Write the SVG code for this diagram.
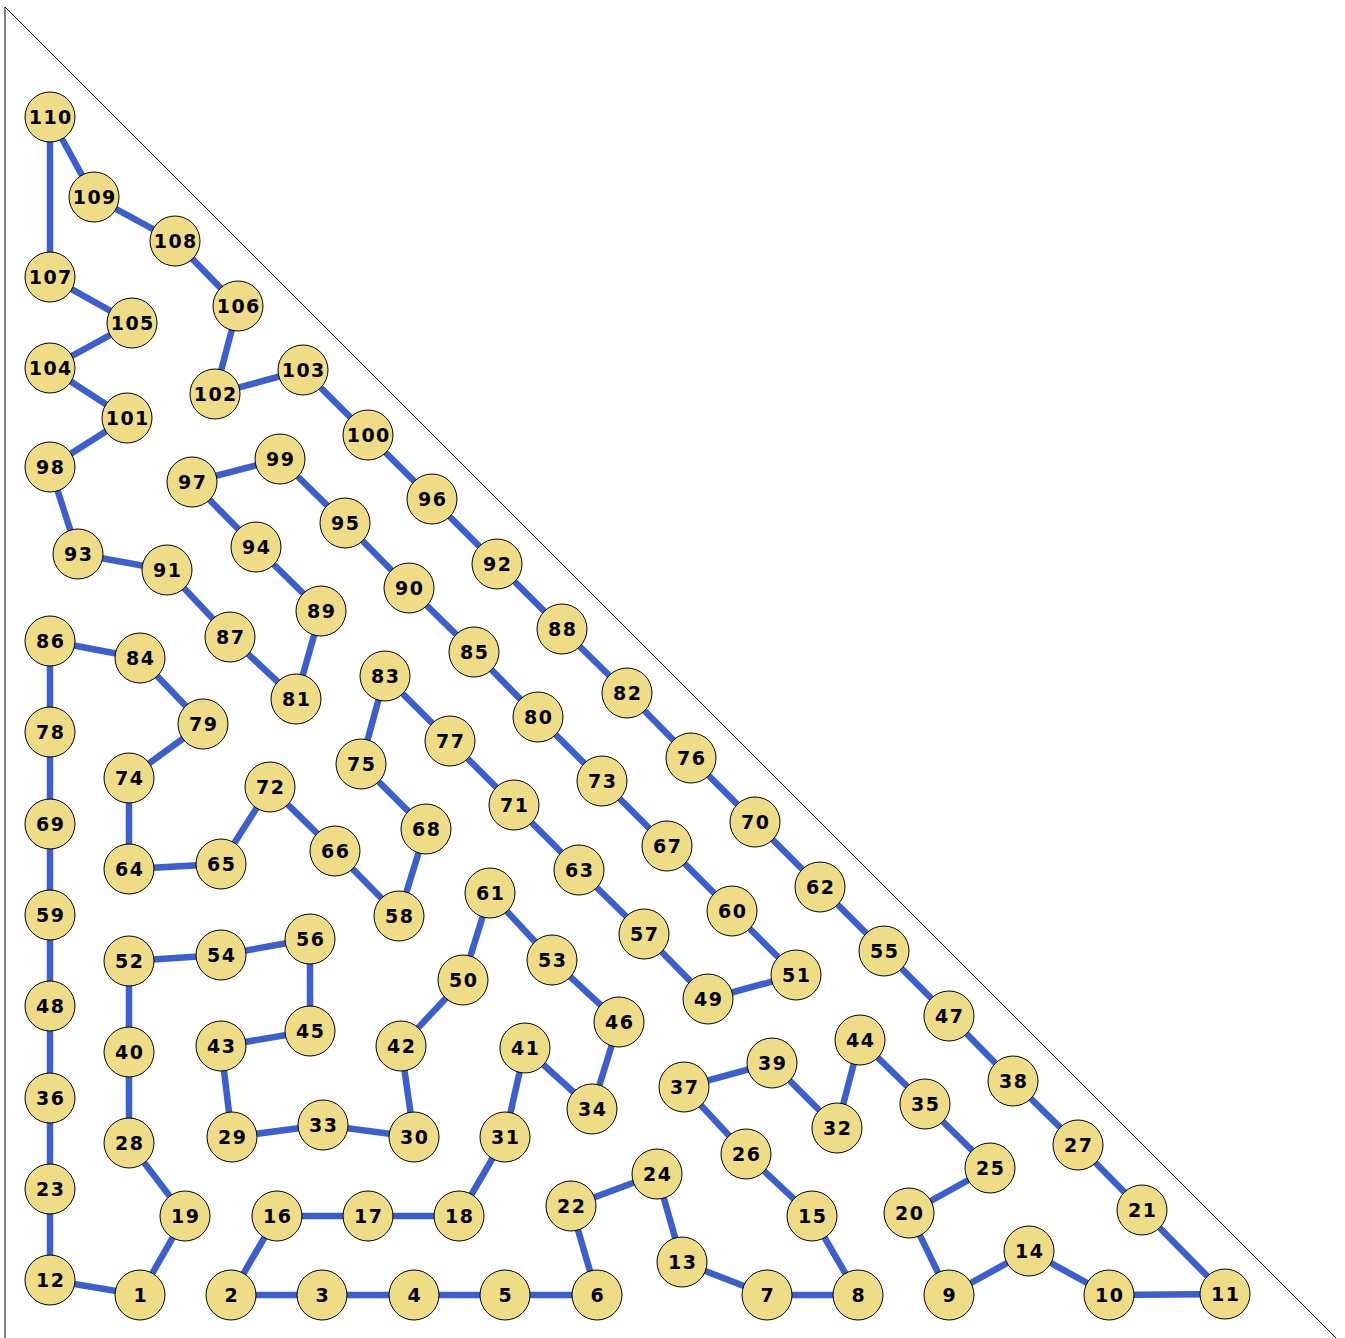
<svg xmlns="http://www.w3.org/2000/svg" width="1345" height="1338" viewBox="0 0 1345 1338">
<style>
.e{stroke:#3b5fcf;stroke-width:6.5;fill:none;stroke-linecap:butt}
.n circle{fill:#efdc86;stroke:#000;stroke-width:1}
.n text{font-family:"DejaVu Sans","Liberation Sans",sans-serif;font-weight:bold;font-size:19px;letter-spacing:1.5px;text-anchor:middle;dominant-baseline:central;fill:#000;transform:translate(0.75px,0px)}
</style>
<rect width="1345" height="1338" fill="#fff"/>
<line x1="5" y1="7" x2="5" y2="1338" stroke="#808080" stroke-width="2"/>
<line x1="5" y1="7" x2="1336" y2="1338" stroke="#000" stroke-width="1"/>
<g id="edges" class="e">
<polyline points="50,117 94,197 175,241 238,306 215,394 303,370 368,435 432,499 497,564 562,629 627,693 691,758 755,822 820,887 884,951 949,1016 1013,1081 1078,1145 1142,1210 1225,1294 1109,1295 1029,1251 949,1295 909,1213 990,1168 925,1104 860,1040 837,1128 772,1063 684,1087 746,1154 812,1216 858,1295 767,1295 682,1262 657,1174 571,1206 597,1295 505,1295 414,1295 322,1295 231,1295 277,1216 368,1216 459,1216 505,1137 525,1048 592,1109 619,1022 552,960 490,893 463,980 401,1046 414,1137 323,1125 232,1137 221,1046 310,1031 310,939 221,955 129,961 129,1052 129,1143 185,1216 140,1295 50,1280 50,1189 50,1098 50,1006 50,915 50,824 50,732 50,641 140,658 203,724 129,778 129,869 221,864 270,787 335,851 399,916 426,829 361,764 385,676 450,741 514,805 579,870 644,934 708,999 796,975 732,911 667,846 602,781 538,717 474,652 409,588 345,523 280,459 192,482 256,547 321,611 296,699 230,637 167,570 78,554 50,467 127,418 50,368 132,323 50,277 50,117"/>
</g>
<g id="nodes" class="n">
<g id="n1"><circle cx="140" cy="1295" r="25"/><text x="140" y="1295">1</text></g>
<g id="n2"><circle cx="231" cy="1295" r="25"/><text x="231" y="1295">2</text></g>
<g id="n3"><circle cx="322" cy="1295" r="25"/><text x="322" y="1295">3</text></g>
<g id="n4"><circle cx="414" cy="1295" r="25"/><text x="414" y="1295">4</text></g>
<g id="n5"><circle cx="505" cy="1295" r="25"/><text x="505" y="1295">5</text></g>
<g id="n6"><circle cx="597" cy="1295" r="25"/><text x="597" y="1295">6</text></g>
<g id="n7"><circle cx="767" cy="1295" r="25"/><text x="767" y="1295">7</text></g>
<g id="n8"><circle cx="858" cy="1295" r="25"/><text x="858" y="1295">8</text></g>
<g id="n9"><circle cx="949" cy="1295" r="25"/><text x="949" y="1295">9</text></g>
<g id="n10"><circle cx="1109" cy="1295" r="25"/><text x="1109" y="1295">10</text></g>
<g id="n11"><circle cx="1225" cy="1294" r="25"/><text x="1225" y="1294">11</text></g>
<g id="n12"><circle cx="50" cy="1280" r="25"/><text x="50" y="1280">12</text></g>
<g id="n13"><circle cx="682" cy="1262" r="25"/><text x="682" y="1262">13</text></g>
<g id="n14"><circle cx="1029" cy="1251" r="25"/><text x="1029" y="1251">14</text></g>
<g id="n15"><circle cx="812" cy="1216" r="25"/><text x="812" y="1216">15</text></g>
<g id="n16"><circle cx="277" cy="1216" r="25"/><text x="277" y="1216">16</text></g>
<g id="n17"><circle cx="368" cy="1216" r="25"/><text x="368" y="1216">17</text></g>
<g id="n18"><circle cx="459" cy="1216" r="25"/><text x="459" y="1216">18</text></g>
<g id="n19"><circle cx="185" cy="1216" r="25"/><text x="185" y="1216">19</text></g>
<g id="n20"><circle cx="909" cy="1213" r="25"/><text x="909" y="1213">20</text></g>
<g id="n21"><circle cx="1142" cy="1210" r="25"/><text x="1142" y="1210">21</text></g>
<g id="n22"><circle cx="571" cy="1206" r="25"/><text x="571" y="1206">22</text></g>
<g id="n23"><circle cx="50" cy="1189" r="25"/><text x="50" y="1189">23</text></g>
<g id="n24"><circle cx="657" cy="1174" r="25"/><text x="657" y="1174">24</text></g>
<g id="n25"><circle cx="990" cy="1168" r="25"/><text x="990" y="1168">25</text></g>
<g id="n26"><circle cx="746" cy="1154" r="25"/><text x="746" y="1154">26</text></g>
<g id="n27"><circle cx="1078" cy="1145" r="25"/><text x="1078" y="1145">27</text></g>
<g id="n28"><circle cx="129" cy="1143" r="25"/><text x="129" y="1143">28</text></g>
<g id="n29"><circle cx="232" cy="1137" r="25"/><text x="232" y="1137">29</text></g>
<g id="n30"><circle cx="414" cy="1137" r="25"/><text x="414" y="1137">30</text></g>
<g id="n31"><circle cx="505" cy="1137" r="25"/><text x="505" y="1137">31</text></g>
<g id="n32"><circle cx="837" cy="1128" r="25"/><text x="837" y="1128">32</text></g>
<g id="n33"><circle cx="323" cy="1125" r="25"/><text x="323" y="1125">33</text></g>
<g id="n34"><circle cx="592" cy="1109" r="25"/><text x="592" y="1109">34</text></g>
<g id="n35"><circle cx="925" cy="1104" r="25"/><text x="925" y="1104">35</text></g>
<g id="n36"><circle cx="50" cy="1098" r="25"/><text x="50" y="1098">36</text></g>
<g id="n37"><circle cx="684" cy="1087" r="25"/><text x="684" y="1087">37</text></g>
<g id="n38"><circle cx="1013" cy="1081" r="25"/><text x="1013" y="1081">38</text></g>
<g id="n39"><circle cx="772" cy="1063" r="25"/><text x="772" y="1063">39</text></g>
<g id="n40"><circle cx="129" cy="1052" r="25"/><text x="129" y="1052">40</text></g>
<g id="n41"><circle cx="525" cy="1048" r="25"/><text x="525" y="1048">41</text></g>
<g id="n42"><circle cx="401" cy="1046" r="25"/><text x="401" y="1046">42</text></g>
<g id="n43"><circle cx="221" cy="1046" r="25"/><text x="221" y="1046">43</text></g>
<g id="n44"><circle cx="860" cy="1040" r="25"/><text x="860" y="1040">44</text></g>
<g id="n45"><circle cx="310" cy="1031" r="25"/><text x="310" y="1031">45</text></g>
<g id="n46"><circle cx="619" cy="1022" r="25"/><text x="619" y="1022">46</text></g>
<g id="n47"><circle cx="949" cy="1016" r="25"/><text x="949" y="1016">47</text></g>
<g id="n48"><circle cx="50" cy="1006" r="25"/><text x="50" y="1006">48</text></g>
<g id="n49"><circle cx="708" cy="999" r="25"/><text x="708" y="999">49</text></g>
<g id="n50"><circle cx="463" cy="980" r="25"/><text x="463" y="980">50</text></g>
<g id="n51"><circle cx="796" cy="975" r="25"/><text x="796" y="975">51</text></g>
<g id="n52"><circle cx="129" cy="961" r="25"/><text x="129" y="961">52</text></g>
<g id="n53"><circle cx="552" cy="960" r="25"/><text x="552" y="960">53</text></g>
<g id="n54"><circle cx="221" cy="955" r="25"/><text x="221" y="955">54</text></g>
<g id="n55"><circle cx="884" cy="951" r="25"/><text x="884" y="951">55</text></g>
<g id="n56"><circle cx="310" cy="939" r="25"/><text x="310" y="939">56</text></g>
<g id="n57"><circle cx="644" cy="934" r="25"/><text x="644" y="934">57</text></g>
<g id="n58"><circle cx="399" cy="916" r="25"/><text x="399" y="916">58</text></g>
<g id="n59"><circle cx="50" cy="915" r="25"/><text x="50" y="915">59</text></g>
<g id="n60"><circle cx="732" cy="911" r="25"/><text x="732" y="911">60</text></g>
<g id="n61"><circle cx="490" cy="893" r="25"/><text x="490" y="893">61</text></g>
<g id="n62"><circle cx="820" cy="887" r="25"/><text x="820" y="887">62</text></g>
<g id="n63"><circle cx="579" cy="870" r="25"/><text x="579" y="870">63</text></g>
<g id="n64"><circle cx="129" cy="869" r="25"/><text x="129" y="869">64</text></g>
<g id="n65"><circle cx="221" cy="864" r="25"/><text x="221" y="864">65</text></g>
<g id="n66"><circle cx="335" cy="851" r="25"/><text x="335" y="851">66</text></g>
<g id="n67"><circle cx="667" cy="846" r="25"/><text x="667" y="846">67</text></g>
<g id="n68"><circle cx="426" cy="829" r="25"/><text x="426" y="829">68</text></g>
<g id="n69"><circle cx="50" cy="824" r="25"/><text x="50" y="824">69</text></g>
<g id="n70"><circle cx="755" cy="822" r="25"/><text x="755" y="822">70</text></g>
<g id="n71"><circle cx="514" cy="805" r="25"/><text x="514" y="805">71</text></g>
<g id="n72"><circle cx="270" cy="787" r="25"/><text x="270" y="787">72</text></g>
<g id="n73"><circle cx="602" cy="781" r="25"/><text x="602" y="781">73</text></g>
<g id="n74"><circle cx="129" cy="778" r="25"/><text x="129" y="778">74</text></g>
<g id="n75"><circle cx="361" cy="764" r="25"/><text x="361" y="764">75</text></g>
<g id="n76"><circle cx="691" cy="758" r="25"/><text x="691" y="758">76</text></g>
<g id="n77"><circle cx="450" cy="741" r="25"/><text x="450" y="741">77</text></g>
<g id="n78"><circle cx="50" cy="732" r="25"/><text x="50" y="732">78</text></g>
<g id="n79"><circle cx="203" cy="724" r="25"/><text x="203" y="724">79</text></g>
<g id="n80"><circle cx="538" cy="717" r="25"/><text x="538" y="717">80</text></g>
<g id="n81"><circle cx="296" cy="699" r="25"/><text x="296" y="699">81</text></g>
<g id="n82"><circle cx="627" cy="693" r="25"/><text x="627" y="693">82</text></g>
<g id="n83"><circle cx="385" cy="676" r="25"/><text x="385" y="676">83</text></g>
<g id="n84"><circle cx="140" cy="658" r="25"/><text x="140" y="658">84</text></g>
<g id="n85"><circle cx="474" cy="652" r="25"/><text x="474" y="652">85</text></g>
<g id="n86"><circle cx="50" cy="641" r="25"/><text x="50" y="641">86</text></g>
<g id="n87"><circle cx="230" cy="637" r="25"/><text x="230" y="637">87</text></g>
<g id="n88"><circle cx="562" cy="629" r="25"/><text x="562" y="629">88</text></g>
<g id="n89"><circle cx="321" cy="611" r="25"/><text x="321" y="611">89</text></g>
<g id="n90"><circle cx="409" cy="588" r="25"/><text x="409" y="588">90</text></g>
<g id="n91"><circle cx="167" cy="570" r="25"/><text x="167" y="570">91</text></g>
<g id="n92"><circle cx="497" cy="564" r="25"/><text x="497" y="564">92</text></g>
<g id="n93"><circle cx="78" cy="554" r="25"/><text x="78" y="554">93</text></g>
<g id="n94"><circle cx="256" cy="547" r="25"/><text x="256" y="547">94</text></g>
<g id="n95"><circle cx="345" cy="523" r="25"/><text x="345" y="523">95</text></g>
<g id="n96"><circle cx="432" cy="499" r="25"/><text x="432" y="499">96</text></g>
<g id="n97"><circle cx="192" cy="482" r="25"/><text x="192" y="482">97</text></g>
<g id="n98"><circle cx="50" cy="467" r="25"/><text x="50" y="467">98</text></g>
<g id="n99"><circle cx="280" cy="459" r="25"/><text x="280" y="459">99</text></g>
<g id="n100"><circle cx="368" cy="435" r="25"/><text x="368" y="435">100</text></g>
<g id="n101"><circle cx="127" cy="418" r="25"/><text x="127" y="418">101</text></g>
<g id="n102"><circle cx="215" cy="394" r="25"/><text x="215" y="394">102</text></g>
<g id="n103"><circle cx="303" cy="370" r="25"/><text x="303" y="370">103</text></g>
<g id="n104"><circle cx="50" cy="368" r="25"/><text x="50" y="368">104</text></g>
<g id="n105"><circle cx="132" cy="323" r="25"/><text x="132" y="323">105</text></g>
<g id="n106"><circle cx="238" cy="306" r="25"/><text x="238" y="306">106</text></g>
<g id="n107"><circle cx="50" cy="277" r="25"/><text x="50" y="277">107</text></g>
<g id="n108"><circle cx="175" cy="241" r="25"/><text x="175" y="241">108</text></g>
<g id="n109"><circle cx="94" cy="197" r="25"/><text x="94" y="197">109</text></g>
<g id="n110"><circle cx="50" cy="117" r="25"/><text x="50" y="117">110</text></g>
</g>
</svg>
